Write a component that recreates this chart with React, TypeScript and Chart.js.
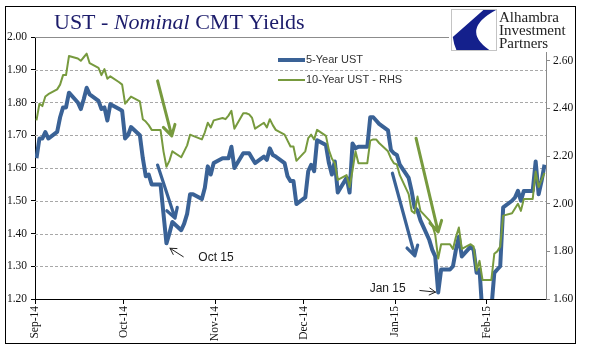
import React, { useEffect, useRef } from "react";
import { Chart, registerables } from "chart.js";

Chart.register(...registerables);

// ---------- DATA ----------
const DATES = [
  "2014-09-01","2014-09-02","2014-09-03","2014-09-04","2014-09-05",
  "2014-09-08","2014-09-09","2014-09-10","2014-09-11","2014-09-12",
  "2014-09-15","2014-09-16","2014-09-17","2014-09-18","2014-09-19",
  "2014-09-22","2014-09-23","2014-09-24","2014-09-25","2014-09-26",
  "2014-09-29","2014-09-30",
  "2014-10-01","2014-10-02","2014-10-03",
  "2014-10-06","2014-10-07","2014-10-08","2014-10-09","2014-10-10",
  "2014-10-13","2014-10-14","2014-10-15","2014-10-16","2014-10-17",
  "2014-10-20","2014-10-21","2014-10-22","2014-10-23","2014-10-24",
  "2014-10-27","2014-10-28","2014-10-29","2014-10-30","2014-10-31",
  "2014-11-03","2014-11-04","2014-11-05","2014-11-06","2014-11-07",
  "2014-11-10","2014-11-11","2014-11-12","2014-11-13","2014-11-14",
  "2014-11-17","2014-11-18","2014-11-19","2014-11-20","2014-11-21",
  "2014-11-24","2014-11-25","2014-11-26","2014-11-27","2014-11-28",
  "2014-12-01","2014-12-02","2014-12-03","2014-12-04","2014-12-05",
  "2014-12-08","2014-12-09","2014-12-10","2014-12-11","2014-12-12",
  "2014-12-15","2014-12-16","2014-12-17","2014-12-18","2014-12-19",
  "2014-12-22","2014-12-23","2014-12-24","2014-12-25","2014-12-26",
  "2014-12-29","2014-12-30","2014-12-31",
  "2015-01-01","2015-01-02",
  "2015-01-05","2015-01-06","2015-01-07","2015-01-08","2015-01-09",
  "2015-01-12","2015-01-13","2015-01-14","2015-01-15","2015-01-16",
  "2015-01-19","2015-01-20","2015-01-21","2015-01-22","2015-01-23",
  "2015-01-26","2015-01-27","2015-01-28","2015-01-29","2015-01-30",
  "2015-02-02","2015-02-03","2015-02-04","2015-02-05","2015-02-06",
  "2015-02-09","2015-02-10","2015-02-11","2015-02-12","2015-02-13",
  "2015-02-16","2015-02-17","2015-02-18","2015-02-19","2015-02-20",
];

const UST_5Y = [
  1.63,1.69,1.69,1.71,1.69, 1.71,1.755,1.785,1.785,1.83, 1.80,1.78,1.81,1.845,1.825, 1.805,1.78,1.785,1.745,1.795, 1.78,1.775,
  1.69,1.70,1.725, 1.70,1.63,1.575,1.58,1.55, 1.55,1.46,1.37,1.40,1.435, 1.41,1.43,1.46,1.52,1.52, 1.505,1.54,1.605,1.58,1.615,
  1.63,1.63,1.63,1.665,1.60, 1.645,1.645,1.645,1.63,1.615, 1.635,1.625,1.66,1.64,1.635, 1.615,1.575,1.56,1.56,1.49,
  1.51,1.59,1.61,1.59,1.685, 1.67,1.615,1.58,1.62,1.525, 1.57,1.525,1.675,1.66,1.665, 1.665,1.755,1.755,1.745,1.735, 1.715,1.655,1.645,
  1.64,1.61, 1.57,1.53,1.48,1.47,1.44, 1.38,1.35,1.33,1.22,1.29, 1.29,1.30,1.35,1.39,1.33, 1.36,1.35,1.28,1.29,1.15,
  1.17,1.28,1.29,1.30,1.48, 1.50,1.51,1.53,1.50,1.53, 1.53,1.62,1.52,1.56,1.61,
];

const UST_10Y = [
  2.35,2.42,2.41,2.45,2.46, 2.48,2.50,2.54,2.54,2.62, 2.61,2.60,2.615,2.63,2.59, 2.57,2.54,2.565,2.525,2.535, 2.51,2.50,
  2.42,2.435,2.45, 2.43,2.355,2.345,2.33,2.31, 2.31,2.22,2.155,2.18,2.22, 2.195,2.22,2.245,2.29,2.285, 2.27,2.30,2.34,2.32,2.35,
  2.36,2.355,2.37,2.39,2.315, 2.38,2.38,2.375,2.36,2.315, 2.34,2.32,2.355,2.33,2.31, 2.29,2.265,2.24,2.24,2.18,
  2.22,2.275,2.29,2.27,2.31, 2.285,2.225,2.19,2.17,2.10, 2.12,2.07,2.14,2.22,2.17, 2.17,2.265,2.27,2.27,2.255, 2.22,2.19,2.17,
  2.165,2.12, 2.04,1.97,1.96,2.03,1.97, 1.93,1.91,1.87,1.77,1.83, 1.83,1.81,1.86,1.90,1.81, 1.83,1.82,1.72,1.76,1.68,
  1.68,1.79,1.80,1.82,1.95, 1.96,1.98,2.00,1.97,2.02, 2.02,2.135,2.07,2.10,2.13,
];

const SERIES_NAMES = ["5-Year UST", "10-Year UST - RHS"];
const MONTH_TICK_DATES = ["2014-09-01","2014-10-01","2014-11-01","2014-12-01","2015-01-01","2015-02-01"];
const MONTH_LABELS = ["Sep-14","Oct-14","Nov-14","Dec-14","Jan-15","Feb-15"];
const AXIS_START = "2014-09-01";
const AXIS_END = "2015-02-21";
const LEFT_TICKS = [1.2, 1.3, 1.4, 1.5, 1.6, 1.7, 1.8, 1.9, 2.0];
const RIGHT_TICKS = [1.6, 1.8, 2.0, 2.2, 2.4, 2.6];
const LEFT_RANGE = [1.2, 2.0];
const RIGHT_RANGE = [1.6, 2.7];

// annotations in data units (x: days from axis start, y: left-axis value)
const ARROWS = [
  { x1: 41.5, y1: 1.866, x2: 46.3, y2: 1.698, kind: "green" },
  { x1: 41.5, y1: 1.609, x2: 47.4, y2: 1.447, kind: "blue" },
  { x1: 121.0, y1: 1.584, x2: 128.6, y2: 1.332, kind: "blue" },
  { x1: 129.0, y1: 1.691, x2: 136.5, y2: 1.405, kind: "green" },
  { x1: 50.2, y1: 1.329, x2: 45.7, y2: 1.355, kind: "thin" },
  { x1: 130.3, y1: 1.226, x2: 135.6, y2: 1.221, kind: "thin" },
];
const NOTES = [
  { text: "Oct 15", x: 55.3, y: 1.325, align: "left" },
  { text: "Jan 15", x: 125.5, y: 1.23, align: "right" },
];

// ---------- STYLE ----------
const BLUE = "#3A6296";
const GREEN = "#779A3E";
const NAVY = "#1C1C6B";
const SERIF = "'Liberation Serif', 'Times New Roman', serif";
const SANS = "'Liberation Sans', Arial, sans-serif";

const dayNum = (s: string) => {
  const [y, m, d] = s.split("-").map(Number);
  return Date.UTC(y, m - 1, d) / 86400000;
};
const BASE = dayNum(AXIS_START);
const dayOf = (s: string) => dayNum(s) - BASE;

function drawArrow(ctx: CanvasRenderingContext2D, x1: number, y1: number, x2: number, y2: number,
  color: string, width: number, head: number) {
  const ang = Math.atan2(y2 - y1, x2 - x1);
  ctx.save();
  ctx.strokeStyle = color;
  ctx.lineWidth = width;
  ctx.lineCap = "round";
  ctx.lineJoin = "round";
  ctx.beginPath();
  ctx.moveTo(x1, y1);
  ctx.lineTo(x2, y2);
  const a = Math.PI / 6;
  ctx.moveTo(x2 - head * Math.cos(ang - a), y2 - head * Math.sin(ang - a));
  ctx.lineTo(x2, y2);
  ctx.lineTo(x2 - head * Math.cos(ang + a), y2 - head * Math.sin(ang + a));
  ctx.stroke();
  ctx.restore();
}

const decorPlugin = {
  id: "decor",
  beforeDraw(chart: any) {
    const ctx = chart.ctx as CanvasRenderingContext2D;
    ctx.save();
    ctx.fillStyle = "#fff";
    ctx.fillRect(0, 0, chart.width, chart.height);
    ctx.restore();
  },
  beforeDatasetsDraw(chart: any) {
    const ctx = chart.ctx as CanvasRenderingContext2D;
    const { left, right } = chart.chartArea;
    const ys = chart.scales.y;
    ctx.save();
    LEFT_TICKS.forEach((v) => {
      if (v === LEFT_RANGE[0]) return;
      const y = Math.round(ys.getPixelForValue(v)) + 0.5;
      ctx.beginPath();
      if (v === LEFT_RANGE[1]) {
        ctx.setLineDash([]);
        ctx.strokeStyle = "#8c8c8c";
      } else {
        ctx.setLineDash([3, 2]);
        ctx.strokeStyle = "#a8a8a8";
      }
      ctx.lineWidth = 1;
      ctx.moveTo(left, y);
      ctx.lineTo(right, y);
      ctx.stroke();
    });
    ctx.restore();
  },
  afterDatasetsDraw(chart: any) {
    const ctx = chart.ctx as CanvasRenderingContext2D;
    const xs = chart.scales.x;
    const ys = chart.scales.y;
    ARROWS.forEach((a) => {
      const x1 = xs.getPixelForValue(a.x1), y1 = ys.getPixelForValue(a.y1);
      const x2 = xs.getPixelForValue(a.x2), y2 = ys.getPixelForValue(a.y2);
      if (a.kind === "green") drawArrow(ctx, x1, y1, x2, y2, GREEN, 3, 12);
      else if (a.kind === "blue") drawArrow(ctx, x1, y1, x2, y2, BLUE, 3.2, 11);
      else drawArrow(ctx, x1, y1, x2, y2, "#222", 1, 7);
    });
    ctx.save();
    ctx.fillStyle = "#1a1a1a";
    ctx.font = `12px ${SANS}`;
    ctx.textBaseline = "middle";
    NOTES.forEach((n) => {
      ctx.textAlign = n.align as CanvasTextAlign;
      ctx.fillText(n.text, xs.getPixelForValue(n.x), ys.getPixelForValue(n.y));
    });
    ctx.restore();

    // legend (inside plot)
    ctx.save();
    const lx = 278, lw = 27;
    const rows = [
      { y: 60, color: BLUE, w: 4, text: SERIES_NAMES[0] },
      { y: 80, color: GREEN, w: 2, text: SERIES_NAMES[1] },
    ];
    rows.forEach((r) => {
      ctx.strokeStyle = r.color;
      ctx.lineWidth = r.w;
      ctx.beginPath();
      ctx.moveTo(lx, r.y);
      ctx.lineTo(lx + lw, r.y);
      ctx.stroke();
      ctx.fillStyle = "#333";
      ctx.font = `11px ${SANS}`;
      ctx.textBaseline = "middle";
      ctx.textAlign = "left";
      ctx.fillText(r.text, lx + lw + 1, r.y);
    });
    ctx.restore();
  },
  afterDraw(chart: any) {
    const ctx = chart.ctx as CanvasRenderingContext2D;
    ctx.save();
    // title
    ctx.fillStyle = NAVY;
    ctx.textBaseline = "alphabetic";
    ctx.textAlign = "left";
    let tx = 54;
    const ty = 29;
    const parts = [
      { t: "UST - ", italic: false },
      { t: "Nominal", italic: true },
      { t: " CMT Yields", italic: false },
    ];
    parts.forEach((p) => {
      ctx.font = `${p.italic ? "italic " : ""}22px ${SERIF}`;
      ctx.fillText(p.t, tx, ty);
      tx += ctx.measureText(p.t).width;
    });

    // logo
    ctx.fillStyle = "#fff";
    ctx.fillRect(449, 8, 123, 44);
    const sx = 451, sy = 9, sw = 45, sh = 41;
    ctx.strokeStyle = "#c4c4c4";
    ctx.lineWidth = 1;
    ctx.strokeRect(sx + 0.5, sy + 0.5, sw, sh);
    ctx.fillStyle = "#14208C";
    ctx.beginPath();
    ctx.moveTo(sx + sw * 0.72, sy + 1);
    ctx.lineTo(sx + sw, sy + 1);
    ctx.quadraticCurveTo(sx + sw * 0.2, sy + sh * 0.5, sx + sw * 0.85, sy + sh);
    ctx.lineTo(sx + sw * 0.12, sy + sh);
    ctx.quadraticCurveTo(sx + sw * 0.06, sy + sh * 0.85, sx + sw * 0.04, sy + sh * 0.68);
    ctx.closePath();
    ctx.fill();
    ctx.fillStyle = "#222";
    ctx.font = `15px ${SERIF}`;
    ctx.fillText("Alhambra", 499, 22);
    ctx.fillText("Investment", 499, 35);
    ctx.fillText("Partners", 499, 48);

    // outer frame
    ctx.strokeStyle = "#000";
    ctx.lineWidth = 1;
    ctx.strokeRect(5.5, 6.5, 570, 337);
    ctx.restore();
  },
};

export default function App() {
  const ref = useRef<HTMLCanvasElement | null>(null);
  useEffect(() => {
    document.body.style.margin = "0";
    const canvas = ref.current;
    if (!canvas) return;
    const xs = DATES.map((d) => dayOf(d) + 0.5);
    const tickFont = { family: SERIF, size: 11.5 };
    const chart = new Chart(canvas, {
      type: "line",
      data: {
        datasets: [
          {
            label: SERIES_NAMES[1],
            data: UST_10Y.map((v, i) => ({ x: xs[i], y: v })),
            yAxisID: "y2",
            borderColor: GREEN,
            borderWidth: 2,
            pointRadius: 0,
            tension: 0,
            borderJoinStyle: "round",
            order: 0,
          },
          {
            label: SERIES_NAMES[0],
            data: UST_5Y.map((v, i) => ({ x: xs[i], y: v })),
            yAxisID: "y",
            borderColor: BLUE,
            borderWidth: 4,
            pointRadius: 0,
            tension: 0,
            borderJoinStyle: "round",
            order: 1,
          },
        ],
      },
      options: {
        responsive: false,
        animation: false,
        events: [],
        layout: { padding: { top: 37, left: 0, right: 0, bottom: 0 } },
        plugins: { legend: { display: false }, tooltip: { enabled: false }, title: { display: false } },
        scales: {
          x: {
            type: "linear",
            min: 0,
            max: dayOf(AXIS_END),
            afterBuildTicks: (s: any) => {
              s.ticks = MONTH_TICK_DATES.map((d) => ({ value: dayOf(d) }));
            },
            afterFit: (s: any) => {
              s.height = 62;
            },
            ticks: {
              autoSkip: false,
              maxRotation: 90,
              minRotation: 90,
              padding: 2,
              color: "#111",
              font: tickFont,
              callback: (_v: any, i: number) => MONTH_LABELS[i],
            },
            grid: { drawOnChartArea: false, drawTicks: true, tickLength: 5, tickColor: "#000", tickWidth: 1 },
            border: { display: true, color: "#000", width: 1 },
          },
          y: {
            type: "linear",
            position: "left",
            min: LEFT_RANGE[0],
            max: LEFT_RANGE[1],
            afterBuildTicks: (s: any) => {
              s.ticks = LEFT_TICKS.map((v) => ({ value: v }));
            },
            afterFit: (s: any) => {
              s.width = 35;
            },
            ticks: {
              padding: 4,
              color: "#111",
              font: tickFont,
              callback: (v: any) => Number(v).toFixed(2),
            },
            grid: { drawOnChartArea: false, drawTicks: true, tickLength: 4, tickColor: "#000" },
            border: { display: true, color: "#000", width: 1 },
          },
          y2: {
            type: "linear",
            position: "right",
            min: RIGHT_RANGE[0],
            max: RIGHT_RANGE[1],
            afterBuildTicks: (s: any) => {
              s.ticks = RIGHT_TICKS.map((v) => ({ value: v }));
            },
            afterFit: (s: any) => {
              s.width = 52;
            },
            ticks: {
              padding: 3,
              color: "#111",
              font: tickFont,
              callback: (v: any) => Number(v).toFixed(2),
            },
            grid: { drawOnChartArea: false, drawTicks: true, tickLength: 4, tickColor: "#8a8a8a" },
            border: { display: true, color: "#8a8a8a", width: 1 },
          },
        },
      },
      plugins: [decorPlugin],
    } as any);
    return () => chart.destroy();
  }, []);
  return (
    <canvas ref={ref} width={598} height={361} style={{ display: "block", width: 598, height: 361 }} />
  );
}
